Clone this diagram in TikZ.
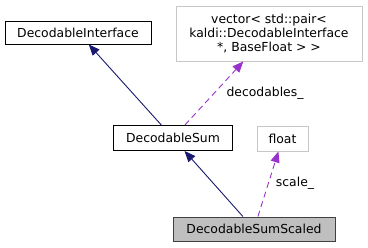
\documentclass[tikz,border=0pt]{standalone}
\usepackage{fontspec}
\setmainfont{DejaVu Sans}
\usetikzlibrary{arrows.meta}
\definecolor{edgeblue}{RGB}{25,25,112}
\definecolor{edgepurple}{RGB}{153,50,204}
\tikzset{
  classbox/.style = {rectangle, draw=black, line width=0.9pt, inner sep=0pt,
    align=center, font=\fontsize{12.4}{14}\selectfont},
  extbox/.style = {classbox, draw=black!22},
  curbox/.style = {classbox, fill=black!25, draw=black!75},
  lbl/.style = {font=\fontsize{12.4}{14}\selectfont},
  inherit/.style = {edgeblue, line width=0.9pt, -{Triangle[length=11pt,width=9pt]}},
  member/.style = {edgepurple, line width=0.9pt, dash pattern=on 6pt off 4pt,
    -{Triangle[length=11pt,width=9pt]}},
}

\begin{document}
\begin{tikzpicture}[x=1pt, y=-1pt]
\useasboundingbox (0,0) rectangle (368,248);

% classes
\node [classbox, minimum width=146pt, minimum height=23pt] (iface) at (78,32.5) {DecodableInterface};
\node [extbox, minimum width=186pt, minimum height=55pt] (vec) at (269,33.5)
  {vector< std::pair<\\ kaldi::DecodableInterface\\ *, BaseFloat > >};
\node [classbox, minimum width=119pt, minimum height=25pt] (sum) at (173,138) {DecodableSum};
\node [extbox, minimum width=51pt, minimum height=25pt] (flt) at (282.5,138.5) {float};
\node [curbox, minimum width=162pt, minimum height=24pt] (scaled) at (254,229) {DecodableSumScaled};

% inheritance
\draw [inherit] (sum) -- (iface);
\draw [inherit] (scaled) -- (sum);

% members
\draw [member] (sum) -- (vec);
\draw [member] (scaled) -- (flt);
\node [lbl] (declbl) at (265,93) {decodables\_};
\node [lbl] (scalelbl) at (295,183) {scale\_};
\end{tikzpicture}
\end{document}
